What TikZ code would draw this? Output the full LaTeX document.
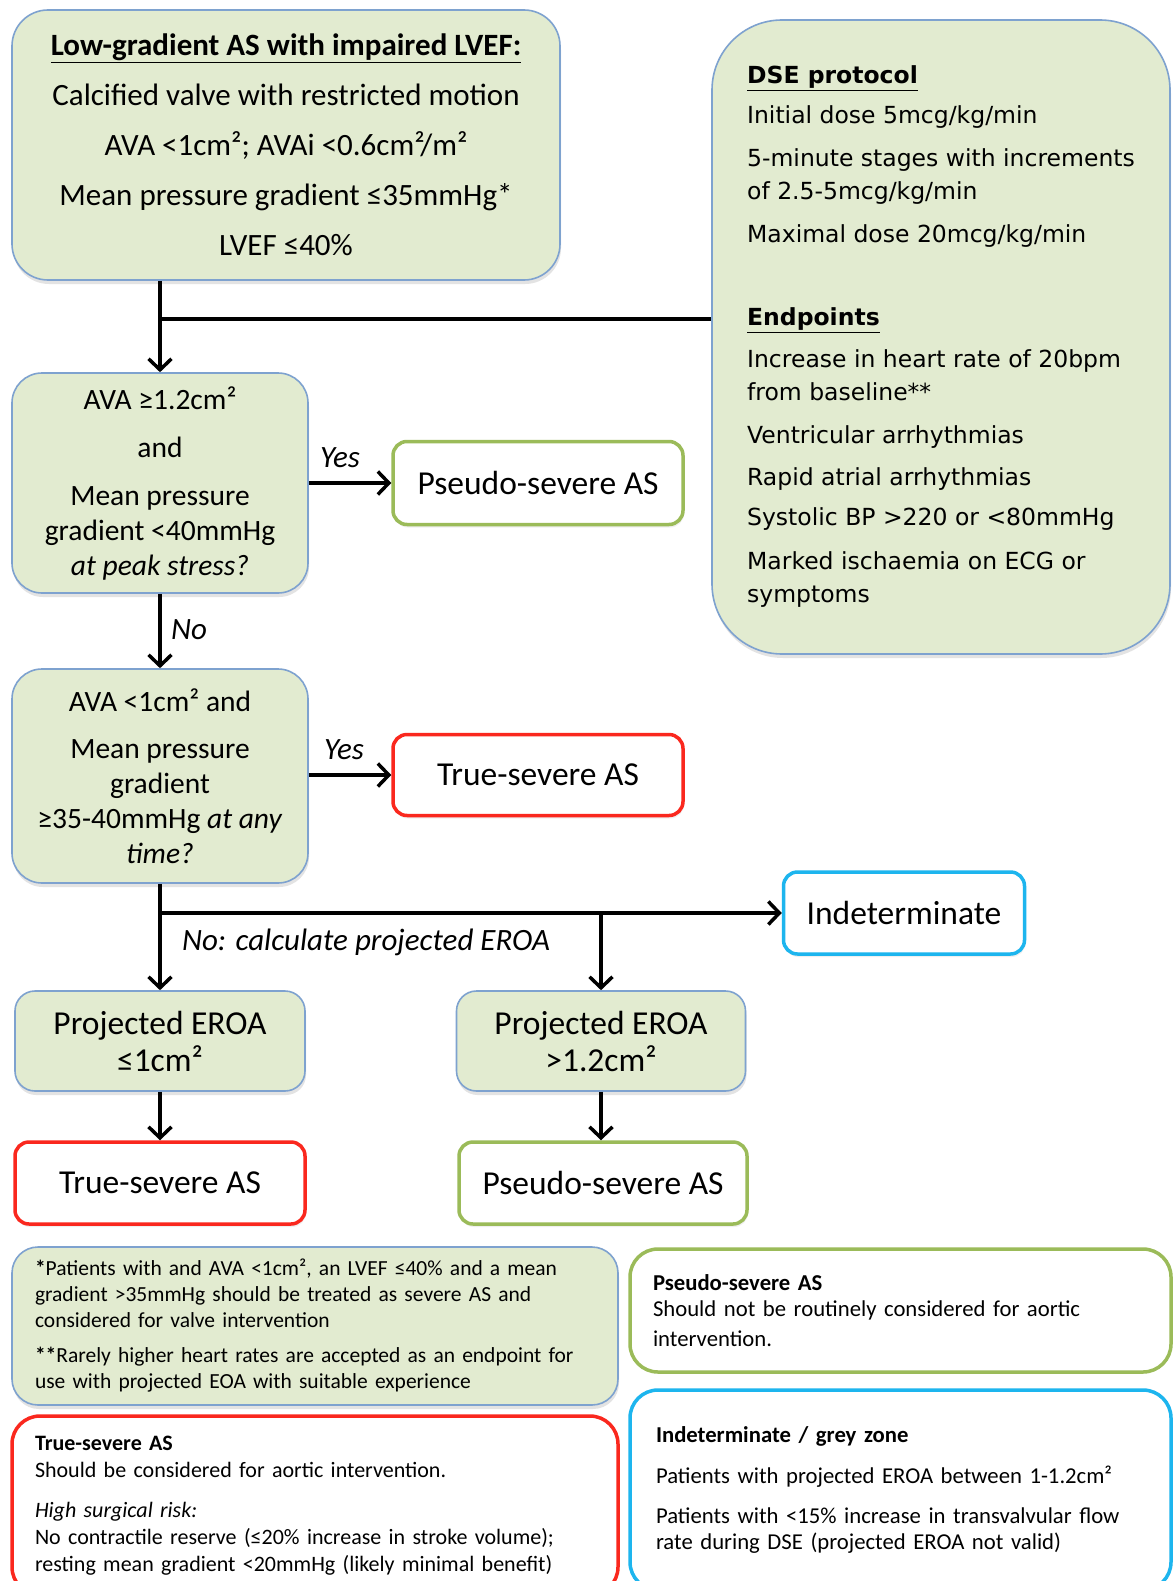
\documentclass[tikz,border=0pt]{standalone}
\usepackage{fontspec}
\setmainfont{Carlito}
\newfontfamily\dsefont{DejaVu Sans}
\usetikzlibrary{arrows.meta,shadows}
\definecolor{gfill}{RGB}{226,235,208}
\definecolor{bline}{RGB}{126,162,207}
\definecolor{rline}{RGB}{250,40,30}
\definecolor{gline}{RGB}{155,187,89}
\definecolor{cline}{RGB}{29,181,238}
\newcommand\fsTop{\fontsize{31pt}{50pt}\selectfont}
\newcommand\fsBox{\fontsize{29.5pt}{35pt}\selectfont}
\newcommand\fsRes{\fontsize{33.5pt}{37pt}\selectfont}
\newcommand\fsLab{\fontsize{31pt}{34pt}\selectfont\itshape}
\newcommand\fsDse{\dsefont\fontsize{23.5pt}{33pt}\selectfont}
\newcommand\fsFoot{\fontsize{21.5pt}{26pt}\selectfont}
\newcommand\fsTnote{\fontsize{22pt}{27pt}\selectfont}
\newcommand\fsRnote{\fontsize{22.7pt}{26pt}\selectfont}
\tikzset{
  gbox/.style={draw=bline, line width=1.6pt, fill=gfill, rounded corners=#1,
    drop shadow={shadow xshift=1pt, shadow yshift=-4pt, opacity=0.22}},
  gbox/.default=30pt,
  obox/.style={draw=#1, line width=3.5pt, fill=white, rounded corners=14pt,
    drop shadow={shadow xshift=1pt, shadow yshift=-3pt, opacity=0.12}},
  nbox/.style={draw=#1, line width=3.5pt, fill=white, rounded corners=28pt},
  conn/.style={line width=3.5pt, black},
  arr/.style={conn, -{Straight Barb[length=11pt,width=23pt,line width=3.5pt]}},
  lab/.style={font=\fsLab, inner sep=0pt},
}
\begin{document}
\begin{tikzpicture}[x=1pt, y=-1pt]
\useasboundingbox (0,0) rectangle (1173,1581);
\clip (0,0) rectangle (1173,1581);
\fill[white] (0,0) rectangle (1173,1581);

% top box
\node[gbox=36pt, minimum width=548pt, minimum height=270pt, font=\fsTop, align=center, inner sep=2pt] (top) at (286,145)
 {\underline{\textbf{Low-gradient AS with impaired LVEF:}}\\
  Calcified valve with restricted motion\\
  AVA <1cm²; AVAi <0.6cm²/m²\\
  Mean pressure gradient ≤35mmHg*\\
  LVEF ≤40\%};

% DSE box
\node[gbox=70pt, minimum width=458pt, minimum height=634pt, font=\fsDse, align=left, inner sep=2pt] (dse) at (941,337)
 {\underline{\textbf{DSE protocol}}\\[7pt]
  Initial dose 5mcg/kg/min\\[10pt]
  5-minute stages with increments\\
  of 2.5-5mcg/kg/min\\[10pt]
  Maximal dose 20mcg/kg/min\\[50pt]
  \underline{\textbf{Endpoints}}\\[9pt]
  Increase in heart rate of 20bpm\\
  from baseline**\\[10pt]
  Ventricular arrhythmias\\[9pt]
  Rapid atrial arrhythmias\\[7pt]
  Systolic BP >220 or <80mmHg\\[11pt]
  Marked ischaemia on ECG or\\
  symptoms};

% decision boxes
\node[gbox=30pt, minimum width=296pt, minimum height=220pt, font=\fsBox, align=center, inner sep=2pt] (q1) at (160,483)
 {AVA ≥1.2cm²\\[13pt]
  and\\[13pt]
  Mean pressure\\
  gradient <40mmHg\\
  \textit{at peak stress?}};

\node[gbox=30pt, minimum width=296pt, minimum height=214pt, font=\fsBox, align=center, inner sep=2pt] (q2) at (160,776)
 {AVA <1cm² and\\[12pt]
  Mean pressure\\
  gradient\\
  ≥35-40mmHg \textit{at any}\\
  \textit{time?}};

\node[obox=gline, minimum width=290pt, minimum height=83pt, font=\fsRes] (ps1) at (538,483) {Pseudo-severe AS};
\node[obox=rline, minimum width=290pt, minimum height=81pt, font=\fsRes] (ts1) at (538,775) {True-severe AS};
\node[obox=cline, minimum width=241pt, minimum height=82pt, font=\fsRes] (ind) at (904,913) {Indeterminate};

\node[gbox=20pt, minimum width=290pt, minimum height=100pt, font=\fsRes, align=center, inner sep=2pt] (pe1) at (160,1041)
 {Projected EROA\\ ≤1cm²};
\node[gbox=20pt, minimum width=289pt, minimum height=100pt, font=\fsRes, align=center, inner sep=2pt] (pe2) at (601,1041)
 {Projected EROA\\ >1.2cm²};

\node[obox=rline, minimum width=290pt, minimum height=82pt, font=\fsRes] (ts2) at (160,1183) {True-severe AS};
\node[obox=gline, minimum width=288pt, minimum height=82pt, font=\fsRes] (ps2) at (603,1183) {Pseudo-severe AS};

% connectors
\draw[arr] (q1.north |- top.south) -- (q1.north);
\coordinate (j1) at (160,319);
\draw[conn] (j1) -- (j1 -| dse.west);
\draw[arr] (q1.east |- ps1.west) -- (ps1.west);
\draw[arr] (q1.south) -- (q2.north);
\draw[arr] (q2.east |- ts1.west) -- (ts1.west);
\draw[arr] (q2.south) -- (pe1.north);
\coordinate (j2) at (q2.south |- ind.west);
\draw[arr] (j2) -- (ind.west);
\draw[arr] (pe2.north |- ind.west) -- (pe2.north);
\draw[arr] (pe1.south) -- (ts2.north);
\draw[arr] (pe2.south) -- (pe2.south |- ps2.north);

% labels
\node[lab] (yes1) at (340,458) {Yes};
\node[lab] (yes2) at (344,750) {Yes};
\node[lab] (no1) at (189,630) {No};
\node[lab] (nocalc) at (366,942) {No: calculate projected EROA};

% notes
\node[gbox=26pt, minimum width=606pt, minimum height=158pt, font=\fsFoot, align=left, text width=560pt, inner sep=2pt] (foot) at (315,1326)
 {\textbf{*}Patients with and AVA <1cm², an LVEF ≤40\% and a mean\\
  gradient >35mmHg should be treated as severe AS and\\
  considered for valve intervention\\[9pt]
  \textbf{**}Rarely higher heart rates are accepted as an endpoint for\\
  use with projected EOA with suitable experience};

\node[nbox=gline, minimum width=541pt, minimum height=123pt, font=\fsRnote, align=left, text width=495pt, inner sep=2pt] (pnote) at (900.5,1310.5)
 {\textbf{Pseudo-severe AS}\\
  Should not be routinely considered for aortic\\[4pt]
  intervention.};

\node[nbox=rline, minimum width=606pt, minimum height=179pt, font=\fsTnote, align=left, text width=560pt, inner sep=2pt] (tnote) at (315,1505.5)
 {\textbf{True-severe AS}\\
  Should be considered for aortic intervention.\\[13pt]
  \textit{High surgical risk:}\\
  No contractile reserve (≤20\% increase in stroke volume);\\
  resting mean gradient <20mmHg (likely minimal benefit)};

\node[nbox=cline, minimum width=541pt, minimum height=200pt, font=\fsRnote, align=left, text width=489pt, inner sep=2pt] (inote) at (900.5,1490)
 {\textbf{Indeterminate / grey zone}\\[15pt]
  Patients with projected EROA between 1-1.2cm²\\[14pt]
  Patients with <15\% increase in transvalvular flow\\
  rate during DSE (projected EROA not valid)};
\end{tikzpicture}
\end{document}
